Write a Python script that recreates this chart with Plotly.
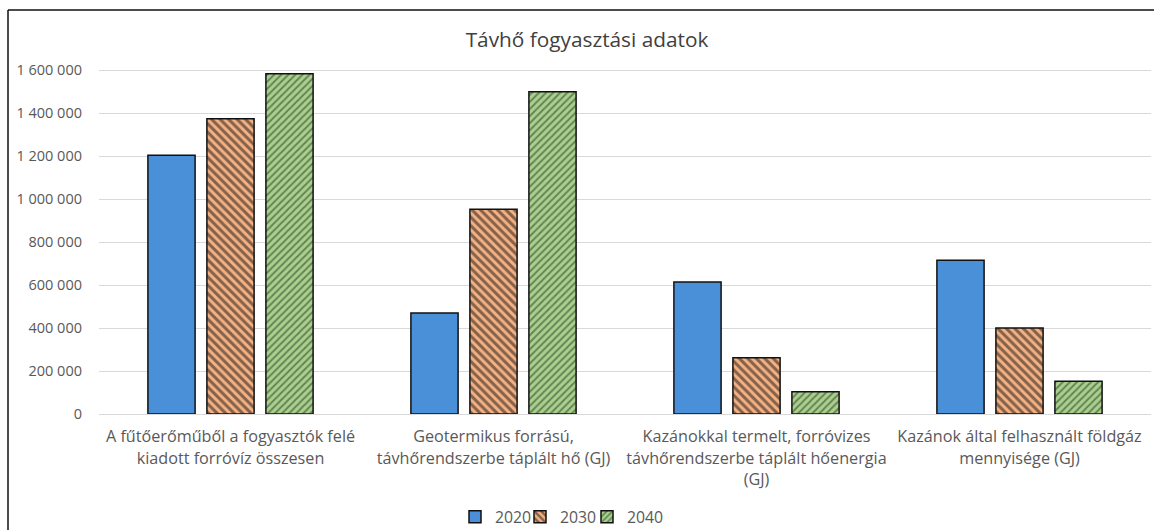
import plotly.graph_objects as go

categories = [
    "A fűtőerőműből a fogyasztók felé<br>kiadott forróvíz összesen",
    "Geotermikus forrású,<br>távhőrendszerbe táplált hő (GJ)",
    "Kazánokkal termelt, forróvizes<br>távhőrendszerbe táplált hőenergia<br>(GJ)",
    "Kazánok által felhasznált földgáz<br>mennyisége (GJ)",
]
v2020 = [1205000, 470000, 615000, 716000]
v2030 = [1375000, 953000, 262000, 400000]
v2040 = [1584000, 1500000, 104000, 153000]
series_names = ["2020", "2030", "2040"]

FONT = "'Open Sans', 'Noto Sans', sans-serif"

legend_x_px = [455, 520, 587]
legend_ids = ["legend", "legend2", "legend3"]

fig = go.Figure()
fig.add_trace(go.Bar(
    name=series_names[0], x=categories, y=v2020, legend=legend_ids[0],
    marker=dict(color="#4A90D9", line=dict(color="#111111", width=1.5)),
))
fig.add_trace(go.Bar(
    name=series_names[1], x=categories, y=v2030, legend=legend_ids[1],
    marker=dict(color="#F4B183", line=dict(color="#111111", width=1.5),
                pattern=dict(shape="\\", fgcolor="#111111", bgcolor="#F4B183",
                             size=6, solidity=0.5, fillmode="overlay")),
))
fig.add_trace(go.Bar(
    name=series_names[2], x=categories, y=v2040, legend=legend_ids[2],
    marker=dict(color="#A9D18E", line=dict(color="#111111", width=1.5),
                pattern=dict(shape="/", fgcolor="#26331c", bgcolor="#A9D18E",
                             size=5, solidity=0.4, fillmode="overlay")),
))

legend_common = dict(orientation="h", xanchor="left", xref="container",
                     y=13/530, yref="container", yanchor="middle",
                     font=dict(family=FONT, size=15.8, color="#595959"),
                     itemwidth=30, bgcolor="rgba(0,0,0,0)")

fig.update_layout(
    width=1154, height=530,
    margin=dict(l=99, r=3, t=66, b=116, autoexpand=False),
    paper_bgcolor="white", plot_bgcolor="white",
    barmode="group", bargap=0.327, bargroupgap=0.2,
    font=dict(family=FONT, color="#595959", size=13),
    separators=". ",
    title=dict(text="Távhő fogyasztási adatok", x=587/1154, xref="container", xanchor="center",
               y=1 - 40/530, yref="container", yanchor="middle",
               font=dict(family=FONT, size=20.8, color="#404040")),
    legend=dict(x=legend_x_px[0]/1154, **legend_common),
    legend2=dict(x=legend_x_px[1]/1154, **legend_common),
    legend3=dict(x=legend_x_px[2]/1154, **legend_common),
    showlegend=True,
)
fig.update_xaxes(showline=True, linecolor="#D9D9D9", linewidth=1, ticks="",
                 tickangle=0, automargin=False, ticklabelstandoff=8,
                 tickfont=dict(family=FONT, size=16.2, color="#595959"))
fig.update_yaxes(range=[0, 1620000], showgrid=True, gridcolor="#D9D9D9", gridwidth=1,
                 dtick=200000, tickformat=",d", automargin=False,
                 zeroline=False, ticks="", ticklabelstandoff=16,
                 tickfont=dict(family=FONT, size=14.5, color="#595959"))

# outer frame (left and top edges visible)
fig.add_shape(type="line", xref="paper", yref="paper",
              x0=(8-99)/1052, x1=(8-99)/1052, y0=(414-545)/348, y1=(414-10)/348,
              line=dict(color="#111111", width=1.5))
fig.add_shape(type="line", xref="paper", yref="paper",
              x0=(8-99)/1052, x1=(1160-99)/1052, y0=(414-10)/348, y1=(414-10)/348,
              line=dict(color="#111111", width=1.5))

fig.write_html("out.html", config={"displayModeBar": False},
               post_script="document.body.style.margin='0';")
